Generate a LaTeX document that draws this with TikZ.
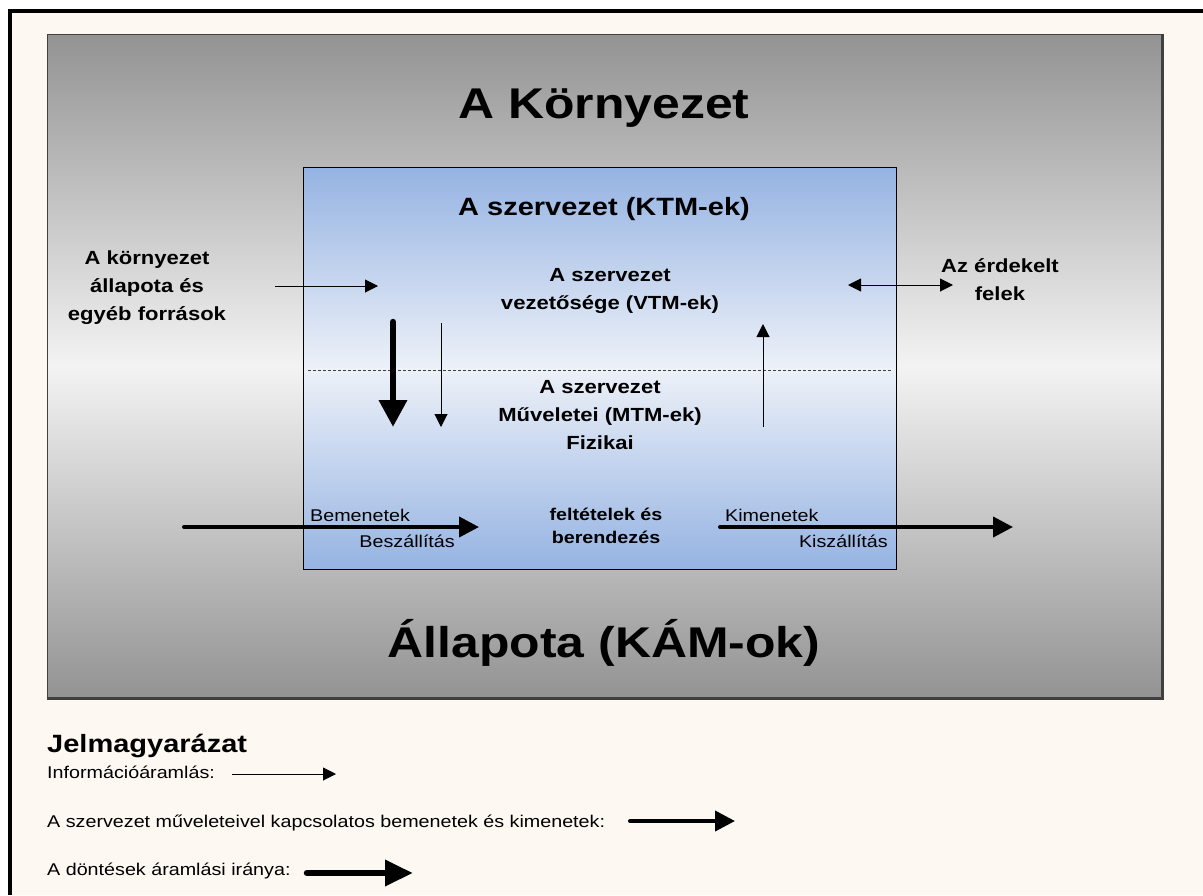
\documentclass[tikz,border=0pt]{standalone}
\usepackage{fontspec}
\setmainfont{Liberation Sans}[FakeStretch=1.16]
\usetikzlibrary{arrows.meta}

\definecolor{paper}{HTML}{FEF8F3}
\definecolor{envdark}{HTML}{939393}
\definecolor{envlight}{HTML}{F3F3F3}
\definecolor{orgdark}{HTML}{95B3E2}
\definecolor{orglight}{HTML}{EDF1F8}
\definecolor{rim}{HTML}{404040}

\begin{document}
\begin{tikzpicture}[x=1pt,y=-1pt,
  txt/.style={inner sep=0pt, align=center},
  head/.style={txt, font=\bfseries\fontsize{19}{28}\selectfont},
  small/.style={txt, font=\fontsize{17}{20}\selectfont},
  info/.style={-{Triangle[length=13pt,width=13pt]}, line width=1pt},
  flow/.style={-{Triangle[length=20pt,width=20pt]}, line width=4pt, line cap=round},
  decision/.style={-{Triangle[length=27pt,width=27pt]}, line width=6.5pt, line cap=round},
  twoway/.style={{Triangle[length=13pt,width=13pt]}-{Triangle[length=13pt,width=13pt]}, line width=1pt}]

\useasboundingbox (0,0) rectangle (1203,895);
\fill[white] (0,0) rectangle (1203,895);
\fill[paper] (10,11) rectangle (1203,895);
\draw[line width=4pt] (10.3,895) -- (10.3,11.3) -- (1203,11.3);

% environment box
\node[anchor=north west, minimum width=1114pt, minimum height=663pt, inner sep=0pt,
      draw=rim, line width=1.2pt, top color=envdark, bottom color=envdark, middle color=envlight]
      (env) at (47,34) {};
\draw[rim, line width=2pt] ([xshift=1pt]env.north east) -- ([xshift=1pt,yshift=-1pt]env.south east)
      -- ([yshift=-1pt]env.south west);

% organisation box
\node[anchor=north west, minimum width=593pt, minimum height=402pt, inner sep=0pt,
      draw=black, line width=1pt, top color=orgdark, bottom color=orgdark, middle color=orglight]
      (org) at (303,167) {};
\draw[rim, line width=0.8pt, dash pattern=on 3pt off 2pt] (308,370) -- (891,370);

% titles
\node[txt, anchor=base, font=\bfseries\fontsize{43}{50}\selectfont] (envtitle) at (604,118) {A Környezet};
\node[txt, anchor=base, font=\bfseries\fontsize{43}{50}\selectfont] (state) at (604,657) {Állapota (KÁM-ok)};
\node[txt, anchor=base, font=\bfseries\fontsize{25}{30}\selectfont] (orgtitle) at (604,215) {A szervezet (KTM-ek)};

% text blocks
\node[head] (sources) at (147,288) {A környezet\\állapota és\\egyéb források};
\node[head] (parties) at (1000,280) {Az érdekelt\\felek};
\node[head] (mgmt) at (610,291) {A szervezet\\vezetősége (VTM-ek)};
\node[head] (ops) at (600,415) {A szervezet\\Műveletei (MTM-ek)\\Fizikai};
\node[txt, font=\bfseries\fontsize{17}{23}\selectfont] (equip) at (606,526) {feltételek és\\berendezés};

\node[small, anchor=base west] (inlbl) at (310,521) {Bemenetek};
\node[small, anchor=base east] (supply) at (455,547) {Beszállítás};
\node[small, anchor=base west] (outlbl) at (725,521) {Kimenetek};
\node[small, anchor=base east] (ship) at (888,547) {Kiszállítás};

% information and material flows
\coordinate (srcA) at (275,286);  \coordinate (srcB) at (378,286);
\coordinate (ptyA) at (848,285);  \coordinate (ptyB) at (953,285);
\coordinate (upA) at (763,427);   \coordinate (upB) at (763,324);
\coordinate (dnA) at (441,323);   \coordinate (dnB) at (441,427);
\coordinate (decA) at (393,322);  \coordinate (decB) at (393,427);
\coordinate (inA) at (184,527);   \coordinate (inB) at (479,527);
\coordinate (outA) at (720,527);  \coordinate (outB) at (1013,527);

\draw[info] (srcA) -- (srcB);
\draw[twoway] (ptyA) -- (ptyB);
\draw[info] (upA) -- (upB);
\draw[info] (dnA) -- (dnB);
\draw[decision] (decA) -- (decB);
\draw[flow] (inA) -- (inB);
\draw[flow] (outA) -- (outB);

% legend
\node[txt, anchor=base west, font=\bfseries\fontsize{25}{30}\selectfont] (legend) at (47,752) {Jelmagyarázat};
\node[small, anchor=base west] (lginfo) at (47,778) {Információáramlás:};
\node[small, anchor=base west] (lgflow) at (47,827) {A szervezet műveleteivel kapcsolatos bemenetek és kimenetek:};
\node[small, anchor=base west] (lgdec) at (47,875) {A döntések áramlási iránya:};

\coordinate (lgiA) at (232,774);  \coordinate (lgiB) at (336,774);
\coordinate (lgfA) at (630,821);  \coordinate (lgfB) at (735,821);
\coordinate (lgdA) at (307,873);  \coordinate (lgdB) at (413,873);
\draw[info] (lgiA) -- (lgiB);
\draw[flow] (lgfA) -- (lgfB);
\draw[decision, -{Triangle[length=28pt,width=25pt]}] (lgdA) -- (lgdB);

\end{tikzpicture}
\end{document}
